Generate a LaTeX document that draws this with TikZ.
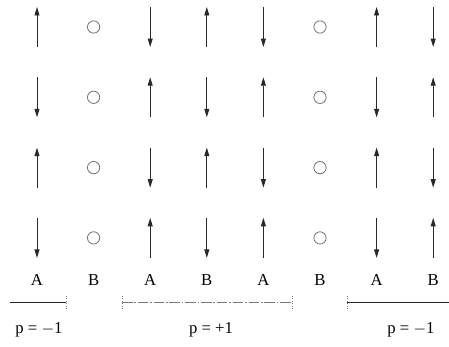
\documentclass[tikz,border=0pt]{standalone}
\usepackage{fontspec}
\setmainfont{Liberation Serif}
\usetikzlibrary{arrows.meta, positioning}
\definecolor{cSpin}{RGB}{40,40,40}
\definecolor{cVac}{RGB}{110,110,110}
\definecolor{cDash}{RGB}{120,120,120}
\tikzset{
	spin/.style    ={-{Triangle[length=4.8pt, width=2.8pt]}, cSpin, line width=0.5pt},
	vacancy/.style ={circle, draw=cVac, line width=0.45pt, minimum size=7pt, inner sep=0pt},
	site/.style    ={font=\fontsize{9.5}{11}\selectfont, inner sep=1pt},
	phase/.style   ={font=\fontsize{9.5}{11}\selectfont, inner sep=1pt},
	bar/.style     ={cSpin, line width=0.5pt},
	midbar/.style  ={cDash, line width=0.4pt, dash pattern=on 6pt off 1pt on 1pt off 1pt},
	tick/.style    ={cDash, line width=0.4pt, densely dotted},
}
\begin{document}
\begin{tikzpicture}[x=0.02cm, y=-0.02cm]
	\useasboundingbox (0,0) rectangle (449,346);
	% sublattice labels
	\foreach \c/\s in {0/A, 1/B, 2/A, 3/B, 4/A, 5/B, 6/A, 7/B}
	\node[site] (lbl\c) at ({37+56.6*\c},280) {\s};
	% spins: u = up, d = down, o = empty site
	\foreach \r/\row in {0/{u,o,d,u,d,o,u,d}, 1/{d,o,u,d,u,o,d,u}, 2/{u,o,d,u,d,o,u,d}, 3/{d,o,u,d,u,o,d,u}}{
		\foreach \t [count=\c from 0] in \row {
			\pgfmathsetmacro{\xx}{37+56.6*\c}
			\pgfmathsetmacro{\yy}{27+70.3*\r}
			\coordinate (top\r\c) at (\xx,\yy-20);
			\coordinate (bot\r\c) at (\xx,\yy+20);
			\if\t u \draw[spin] (bot\r\c) -- (top\r\c); \fi
			\if\t d \draw[spin] (top\r\c) -- (bot\r\c); \fi
			\if\t o \node[vacancy] (vac\r\c) at (\xx,\yy) {}; \fi
		}
	}
	% domains
	\coordinate (l0) at (10,302);
	\coordinate (l1) at (66,302);
	\coordinate (m0) at (122,302);
	\coordinate (m1) at (292,302);
	\coordinate (r0) at (347,302);
	\coordinate (r1) at (449,302);
	\draw[bar] (l0) -- (l1);
	\draw[midbar] (m0) -- (m1);
	\draw[bar] (r0) -- (r1);
	\foreach \p in {l1, m0, m1, r0}
	\draw[tick] ([yshift=-4pt]\p) -- ([yshift=4pt]\p);
	\node[phase] (pl) at (39,330) {p = $-$1};
	\node[phase] (pm) at (211,330) {p = +1};
	\node[phase] (pr) at (411,330) {p = $-$1};
\end{tikzpicture}
\end{document}
